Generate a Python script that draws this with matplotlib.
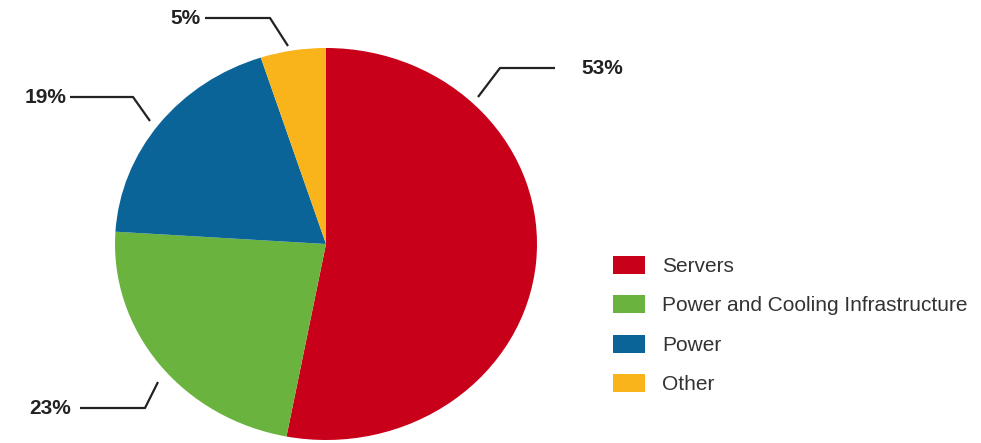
import matplotlib
matplotlib.use("Agg")
import matplotlib.pyplot as plt
from matplotlib.patches import Patch

labels = ["Servers", "Power and Cooling Infrastructure", "Power", "Other"]
shares = [53, 23, 19, 5]
pct_text = ["53%", "23%", "19%", "5%"]
colors = ["#c8001a", "#6ab33e", "#0b6497", "#f9b31b"]

plt.rcParams["font.family"] = ["Liberation Sans", "DejaVu Sans"]
W, H = 981, 443
fig = plt.figure(figsize=(W / 100, H / 100), dpi=100)
fig.patch.set_facecolor("white")

# pie box in pixels: x 115..537, y 48..440 (slightly squashed ellipse)
px0, px1, py0, py1 = 115, 537, 48, 440
ax = fig.add_axes([px0 / W, 1 - py1 / H, (px1 - px0) / W, (py1 - py0) / H])
ax.pie(shares, colors=colors, startangle=90, counterclock=False,
       wedgeprops=dict(linewidth=0))
ax.set_aspect("auto")
ax.set_xlim(-1, 1); ax.set_ylim(-1, 1)
ax.axis("off")

# overlay in pixel coords for the leader lines
ov = fig.add_axes([0, 0, 1, 1]); ov.set_xlim(0, W); ov.set_ylim(H, 0); ov.axis("off")
# (rim point, elbow, line end x, text x) per label
lead = {"53%": ((478, 97), (500, 68), 555, 581),
        "23%": ((158, 382), (145, 408), 80, 71),
        "19%": ((150, 121), (133, 97), 70, 66),
        "5%": ((288, 46), (270, 18), 205, 201)}
for t in pct_text:
    (sx, sy), (ex, ey), endx, tx = lead[t]
    ov.plot([sx, ex, endx], [sy, ey, ey], color="#222222", lw=1.6, solid_capstyle="butt")
    ov.text(tx, ey, t, ha="left" if tx > ex else "right", va="center",
            fontsize=15, fontweight="bold", color="#222222")

handles = [Patch(facecolor=c, edgecolor="none") for c in colors]
fig.legend(handles, labels, loc="upper left", bbox_to_anchor=(613 / W, 1 - 256 / H),
           frameon=False, fontsize=15, handlelength=1.55, handleheight=0.95,
           labelspacing=0.92, handletextpad=0.8, borderpad=0, borderaxespad=0,
           labelcolor="#333333")

fig.savefig("out.png", dpi=100, facecolor="white")
